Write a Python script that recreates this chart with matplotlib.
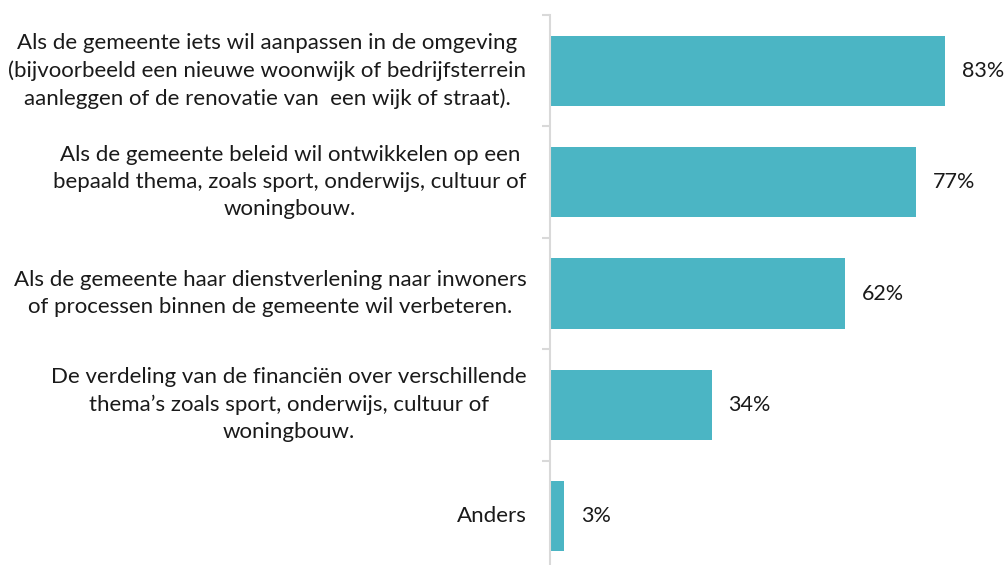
import matplotlib
matplotlib.use("Agg")
import matplotlib.pyplot as plt

categories = [
    "Als de gemeente iets wil aanpassen in de omgeving\n(bijvoorbeeld een nieuwe woonwijk of bedrijfsterrein\naanleggen of de renovatie van  een wijk of straat).",
    "Als de gemeente beleid wil ontwikkelen op een\nbepaald thema, zoals sport, onderwijs, cultuur of\nwoningbouw.",
    "Als de gemeente haar dienstverlening naar inwoners\nof processen binnen de gemeente wil verbeteren.",
    "De verdeling van de financiën over verschillende\nthema’s zoals sport, onderwijs, cultuur of\nwoningbouw.",
    "Anders",
]
values = [83, 77, 62, 34, 3]

plt.rcParams['font.family'] = ['Lato', 'DejaVu Sans']

fig = plt.figure(figsize=(10.05, 5.65), dpi=100)
W, H = 1005, 565
# axes from x=550 to 1005, y=15 to 572 (pixel coords from top)
ax = fig.add_axes([550 / W, (H - 572) / H, (W - 550) / W, (572 - 15) / H])

ypos = list(range(len(values)))
ax.barh(ypos, values, height=0.63, color="#4BB5C4", zorder=2)
ax.set_ylim(len(values) - 0.5, -0.5)
ax.set_xlim(0, 95.6)

for y, v in zip(ypos, values):
    ax.annotate(f"{v}%", (v, y), xytext=(12, 0), textcoords="offset points",
                va="center", ha="left", fontsize=15.5, color="#1a1a1a")

for y, c in zip(ypos, categories):
    ax.annotate(c, (0, y), xytext=(-17, 0), textcoords="offset points",
                va="center", ha="right", multialignment="center",
                fontsize=16, color="#1a1a1a", linespacing=1.45)

for s in ["top", "right", "bottom"]:
    ax.spines[s].set_visible(False)
ax.spines["left"].set_color("#D9D9D9")
ax.spines["left"].set_linewidth(1.5)
ax.set_xticks([])
ax.set_yticks([i - 0.5 for i in range(len(values) + 1)])
ax.set_yticklabels([])
ax.tick_params(axis="y", length=6, width=1.5, color="#D9D9D9")

fig.savefig("out.png", dpi=100)
